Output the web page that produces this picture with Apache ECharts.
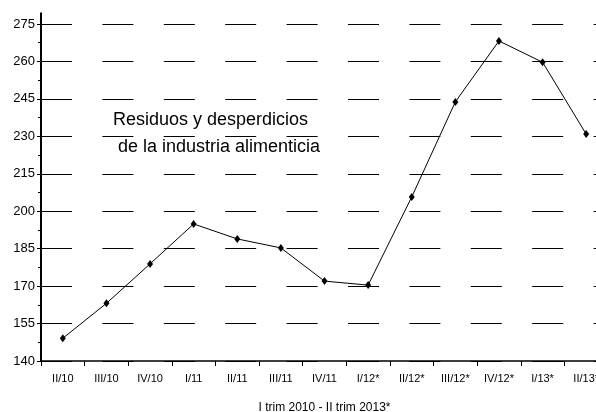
<!DOCTYPE html>
<html>
<head>
<meta charset="utf-8">
<script src="https://cdn.jsdelivr.net/npm/echarts@6/dist/echarts.min.js"></script>
<style>
  html, body { margin: 0; padding: 0; background: #fff; }
  #chart { width: 596px; height: 412px; }
</style>
</head>
<body>
<div id="chart"></div>
<script>
  // trimestres
  var trimestres = ['II/10', 'III/10', 'IV/10', 'I/11', 'II/11', 'III/11', 'IV/11',
    'I/12*', 'II/12*', 'III/12*', 'IV/12*', 'I/13*', 'II/13*'];
  // valores
  var residuos = [149.1, 163.1, 178.9, 194.9, 188.9, 185.3, 172.0,
    170.4, 205.7, 243.8, 268.2, 259.7, 230.9];

  var yMin = 140, yMax = 275, yPaso = 15;
  var fuente = 'Liberation Sans, Arial, sans-serif';

  var chart = echarts.init(document.getElementById('chart'));

  var option = {
    animation: false,
    backgroundColor: '#fff',
    title: [
      {
        text: 'Residuos y desperdicios',
        left: 108, top: 106,
        textStyle: { fontFamily: fuente, fontSize: 18, fontWeight: 'normal', color: '#000' }
      },
      {
        text: 'de la industria alimenticia',
        left: 113, top: 133,
        textStyle: { fontFamily: fuente, fontSize: 18, fontWeight: 'normal', color: '#000' }
      }
    ],
    // el area de trazado sigue mas alla del borde derecho
    grid: { left: 41, width: 567, top: 24, height: 337, outerBoundsMode: 'none', containLabel: false },
    xAxis: {
      type: 'category',
      data: trimestres,
      boundaryGap: true,
      name: 'I trim 2010 - II trim 2013*',
      nameLocation: 'middle',
      nameGap: 41,
      nameTextStyle: { fontFamily: fuente, fontSize: 12, color: '#000' },
      axisLine: { lineStyle: { color: '#000', width: 1.5 } },
      axisTick: { show: true, length: 5, lineStyle: { color: '#000' } },
      axisLabel: { fontFamily: fuente, fontSize: 11, color: '#000', margin: 12, interval: 0 },
      splitLine: { show: false }
    },
    yAxis: {
      type: 'value',
      min: yMin, max: yMax, interval: yPaso,
      axisLine: {
        show: true,
        lineStyle: { color: '#000', width: 2 },
        symbol: ['none', 'rect'],
        symbolSize: [2, 23]
      },
      axisTick: { show: true, length: 4, lineStyle: { color: '#000' } },
      minorTick: { show: true, splitNumber: 2, length: 3, lineStyle: { color: '#000' } },
      axisLabel: { fontFamily: fuente, fontSize: 13, color: '#000', margin: 6 },
      splitLine: {
        show: true,
        lineStyle: { color: '#000', width: 1, type: [31, 30.4], dashOffset: 0 }
      }
    },
    series: [{
      type: 'line',
      data: residuos,
      symbol: 'diamond',
      symbolSize: [6, 8],
      itemStyle: { color: '#000' },
      lineStyle: { color: '#000', width: 1 },
      z: 5
    }]
  };

  chart.setOption(option);
</script>
</body>
</html>
